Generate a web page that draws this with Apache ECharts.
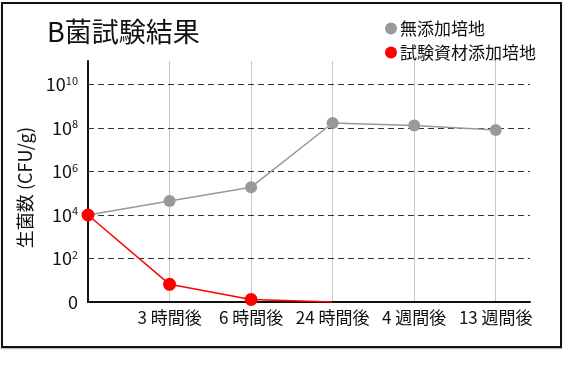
<!DOCTYPE html>
<html>
<head>
<meta charset="utf-8">
<script src="https://cdn.jsdelivr.net/npm/echarts@6/dist/echarts.min.js"></script>
<style>
  html, body { margin: 0; padding: 0; background: #fff; }
  #chart { position: absolute; left: 0; top: 0; width: 580px; height: 370px; }
  #frame { position: absolute; left: 1px; top: 2px; width: 561px; height: 346px; box-sizing: border-box;
           border: 2px solid #111; pointer-events: none; box-shadow: 0 1px 1px #bbb; }
</style>
</head>
<body>
<div id="chart"></div>
<div id="frame"></div>
<script>
// ---- data ----
const title = 'B菌試験結果';
const yAxisName = '生菌数 (CFU/g)';
const categories = ['', '3 時間後', '6 時間後', '24 時間後', '4 週間後', '13 週間後'];
const seriesNames = ['無添加培地', '試験資材添加培地'];
const plainValues = [1e4, 4.4e4, 1.9e5, 1.7e8, 1.3e8, 8e7];
const treatedValues = [1e4, 6.5, 1.3, 1];
const yGridValues = [1e2, 1e4, 1e6, 1e8, 1e10];
const xGridIndexes = [1, 2, 3, 4, 5];

const font = '"Noto Sans CJK JP", "Noto Sans", sans-serif';
const chart = echarts.init(document.getElementById('chart'), null, { renderer: 'canvas' });

function yLabel(v) {
  if (v === 1) return '0';
  const e = Math.log10(v);
  const r = Math.round(e);
  if (Math.abs(e - r) > 1e-6 || r % 2 !== 0) return '';
  return '{b|10}{s|' + r + '}';
}

const option = {
  backgroundColor: '#fff',
  animation: false,
  title: {
    text: title, left: 42, top: 13,
    textStyle: { fontFamily: font, fontSize: 27, fontWeight: 'normal', color: '#111' }
  },
  legend: {
    orient: 'vertical', left: 380, top: 15, itemGap: 7,
    itemWidth: 12, itemHeight: 12, icon: 'circle',
    textStyle: { fontFamily: font, fontSize: 17, color: '#111', padding: [0, 0, 0, -2] },
    data: seriesNames
  },
  grid: { left: 88, top: 61, right: 50, bottom: 68, containLabel: false },
  xAxis: {
    type: 'value', min: 0, max: 5.42, interval: 1, z: 3,
    axisLine: { show: true, onZero: false, lineStyle: { color: '#111', width: 2 } },
    axisTick: { show: false },
    splitLine: { show: false },
    axisLabel: {
      margin: 7, fontFamily: font, fontSize: 17, color: '#111',
      formatter: v => (Number.isInteger(v) && categories[v] !== undefined) ? categories[v] : ''
    }
  },
  yAxis: {
    type: 'log', logBase: 10, min: 1, max: 1.2e11, interval: 2,
    name: yAxisName, nameLocation: 'middle', nameGap: 54,
    nameTextStyle: { fontFamily: font, fontSize: 18, color: '#111', padding: [0, 12, 0, 0] },
    axisLine: { show: true, lineStyle: { color: '#111', width: 2 } },
    axisTick: { show: false },
    splitLine: { show: false },
    axisLabel: {
      margin: 10, formatter: yLabel, fontFamily: font, fontSize: 18, color: '#111',
      rich: {
        b: { fontFamily: font, fontSize: 18, color: '#111' },
        s: { fontFamily: font, fontSize: 11, color: '#111', verticalAlign: 'top', padding: [0, 0, 8, 0] }
      }
    }
  },
  series: [
    {
      name: seriesNames[0], type: 'line',
      data: plainValues.map((v, i) => [i, v]),
      symbol: 'circle', symbolSize: 12,
      itemStyle: { color: '#999' },
      lineStyle: { color: '#999', width: 1.5 },
      markLine: {
        silent: true, symbol: ['none', 'none'], z: 1, animation: false,
        label: { show: false },
        emphasis: { disabled: true },
        data: [
          ...xGridIndexes.map(x => ({ xAxis: x, lineStyle: { color: '#c8c8c8', width: 1, type: 'solid' } })),
          ...yGridValues.map(y => ({ yAxis: y, lineStyle: { color: '#333', width: 1, type: [6, 4] } }))
        ]
      }
    },
    {
      name: seriesNames[1], type: 'line',
      data: treatedValues.map((v, i) => v > 1 ? [i, v] : { value: [i, v], symbol: 'none' }),
      symbol: 'circle', symbolSize: 13,
      itemStyle: { color: '#ff0000' },
      lineStyle: { color: '#ff0000', width: 1.5 }
    }
  ]
};
chart.setOption(option);
</script>
</body>
</html>
